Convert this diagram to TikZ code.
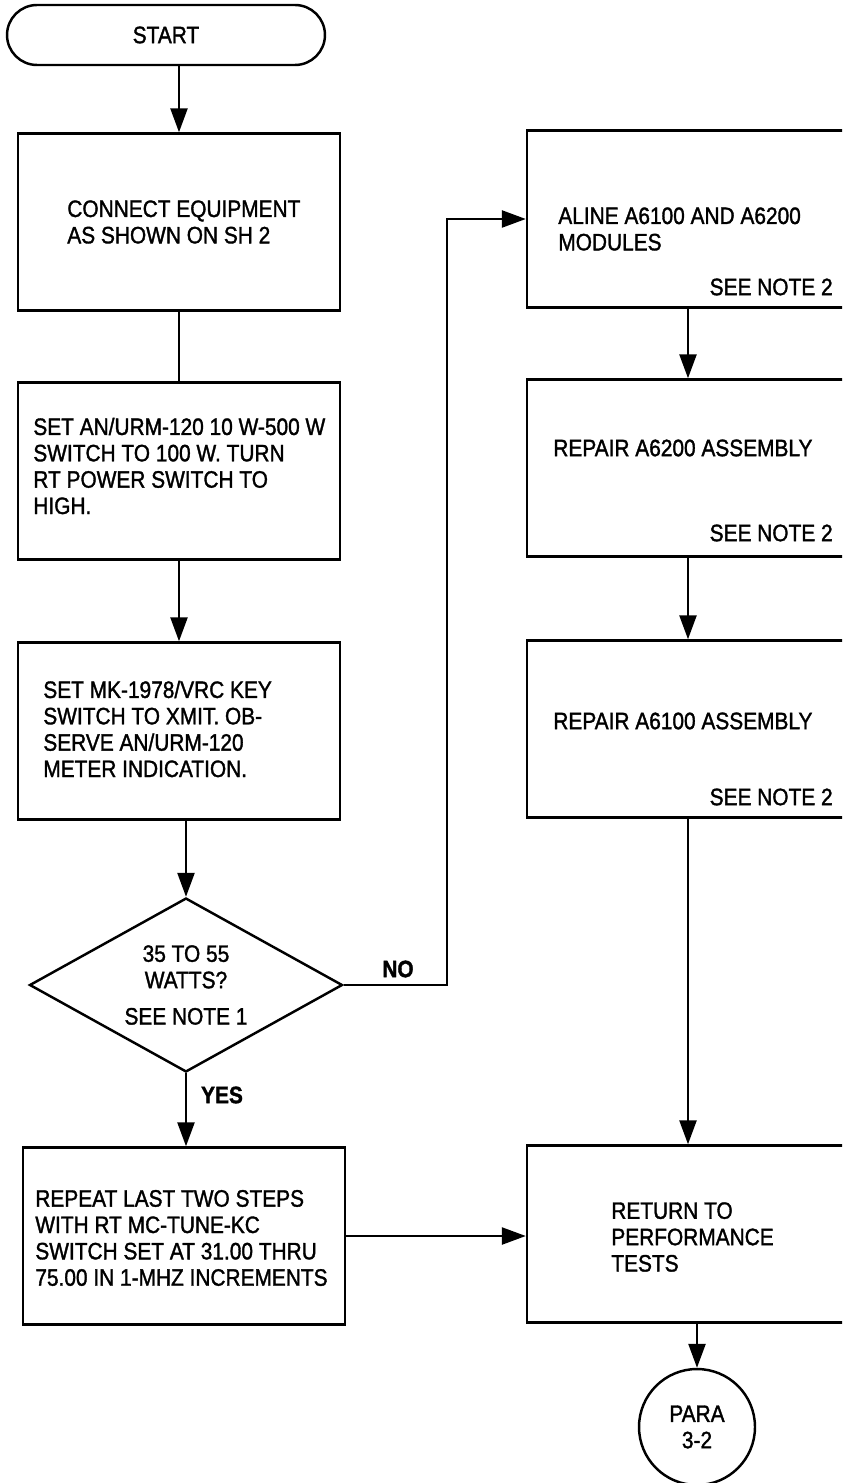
\documentclass[tikz,border=0pt]{standalone}
\usepackage{fontspec}
\setmainfont{Liberation Sans}[FakeStretch=0.88,FakeBold=1.4]
\usetikzlibrary{arrows.meta,shapes.geometric}
\newcommand{\fsz}{\fontsize{13.5}{15}\selectfont}
\tikzset{
  stepbox/.style={draw,line width=1.4pt,minimum width=6.44cm,minimum height=3.54cm},
  term/.style={draw,line width=1.4pt,rounded corners=0.6cm,minimum width=6.36cm,
               minimum height=1.2cm,font=\fsz},
  decide/.style={draw,diamond,aspect=1.8,line width=1.4pt,minimum width=6.26cm,
                 minimum height=3.48cm,inner sep=0pt,align=center,font=\fsz},
  conn/.style={draw,circle,line width=1.4pt,minimum size=2.32cm,inner sep=0pt,
               align=center,font=\fsz},
  txt/.style={anchor=west,align=left,inner sep=0pt,font=\fsz},
  note/.style={anchor=east,inner sep=0pt,font=\fsz},
  yn/.style={inner sep=0pt,font=\fsz\bfseries},
  flow/.style={-{Triangle[length=4.8mm,width=3.4mm]},line width=1.4pt},
  wire/.style={line width=1.4pt},
}

\begin{document}
\begin{tikzpicture}[x=0.02cm,y=-0.02cm]
  \useasboundingbox (0,0) rectangle (842,1483);
  \clip (0,0) rectangle (842,1483);

  % left column
  \node[term] (start) at (166,35) {START};
  \node[stepbox] (connect) at (179,222) {};
  \node[stepbox] (setpw) at (179,471) {};
  \node[stepbox] (xmit) at (179,731) {};
  \node[decide] (check) at (186,985) {35 TO 55\\WATTS?\\[0.2cm]SEE NOTE 1};
  \node[stepbox] (repeat) at (184,1236) {};

  \node[txt] (connectT) at (67,222) {CONNECT EQUIPMENT\\AS SHOWN ON SH 2};
  \node[txt] (setpwT) at (33,466) {SET AN/URM-120 10 W-500 W\\SWITCH TO 100 W. TURN\\RT POWER SWITCH TO\\HIGH.};
  \node[txt] (xmitT) at (43,729) {SET MK-1978/VRC KEY\\SWITCH TO XMIT. OB-\\SERVE AN/URM-120\\METER INDICATION.};
  \node[txt] (repeatT) at (35,1238) {REPEAT LAST TWO STEPS\\WITH RT MC-TUNE-KC\\SWITCH SET AT 31.00 THRU\\75.00 IN 1-MHZ INCREMENTS};

  % right column
  \node[stepbox] (aline) at (688,219) {};
  \node[stepbox] (fix62) at (688,468) {};
  \node[stepbox] (fix61) at (688,729) {};
  \node[stepbox] (ret) at (688,1234) {};
  \node[conn] (para) at (697,1427) {PARA\\3-2};

  \node[txt] (alineT) at (558,229) {ALINE A6100 AND A6200\\MODULES};
  \node[txt] (fix62T) at (553,448) {REPAIR A6200 ASSEMBLY};
  \node[txt] (fix61T) at (553,721) {REPAIR A6100 ASSEMBLY};
  \node[txt] (retT) at (611,1237) {RETURN TO\\PERFORMANCE\\TESTS};
  \node[note] (n1) at (833,287) {SEE NOTE 2};
  \node[note] (n2) at (833,533) {SEE NOTE 2};
  \node[note] (n3) at (833,797) {SEE NOTE 2};

  % connectors
  \coordinate (nobend) at (447,985);
  \draw[flow] (start.south -| connect.north) -- (connect.north);
  \draw[wire] (connect.south) -- (setpw.north);
  \draw[flow] (setpw.south) -- (xmit.north);
  \draw[flow] (xmit.south -| check.north) -- (check.north);
  \draw[flow] (check.south) -- (check.south |- repeat.north);
  \draw[flow] (check.east) -- (nobend) |- (aline.west);
  \draw[flow] (aline.south) -- (fix62.north);
  \draw[flow] (fix62.south) -- (fix61.north);
  \draw[flow] (fix61.south) -- (ret.north);
  \draw[flow] (repeat.east) -- (repeat.east -| ret.west);
  \draw[flow] (ret.south -| para.north) -- (para.north);

  \node[yn] (no) at (398,969) {NO};
  \node[yn] (yes) at (222,1095) {YES};
\end{tikzpicture}
\end{document}
